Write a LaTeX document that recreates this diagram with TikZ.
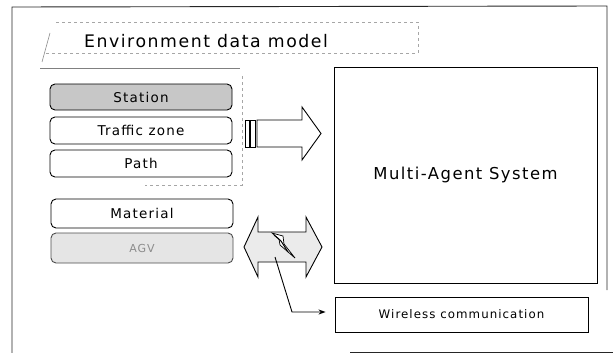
\documentclass[tikz,border=0pt]{standalone}
\usepackage{fontspec}
\setmainfont{DejaVu Sans}[LetterSpace=9]
\usetikzlibrary{arrows.meta}
\begin{document}
\begin{tikzpicture}[x=1pt,y=-1pt,
  frameline/.style={line width=0.9pt, black!85},
  faint/.style={draw=black!35, dashed, line width=0.6pt},
  item/.style={draw, rounded corners=5pt, minimum width=182pt, line width=0.9pt, inner sep=0pt, font=\fontsize{13.5}{15}\selectfont},
  bigarrow/.style={draw, line width=0.9pt, line join=miter},
  plainbox/.style={draw, line width=0.9pt, inner sep=0pt}]
\useasboundingbox (0,0) rectangle (613,353);
% outer frame
\draw[frameline] (12,353) -- (12,7) -- (607,6) -- (607,290);
\draw[frameline] (350,352) -- (613,352);
% title frame
\draw[faint] (56,22) -- (418,22) -- (418,53) -- (44,53);
\draw[draw=black!45, line width=0.6pt] (50,33) -- (42,62);
\draw[draw=black!50, line width=0.7pt] (40,68) -- (240,68);
\node[font=\fontsize{17.3}{20}\selectfont, inner sep=0pt] (title) at (206,41) {Environment data model};
% group box
\draw[faint] (242,76) -- (242,185) -- (145,185);
% items
\node[item, fill=black!22, minimum height=26pt] (station) at (141,97) {Station};
\node[item, minimum height=27pt] (traffic) at (141,130.5) {Traffic zone};
\node[item, minimum height=27pt] (path) at (141,163.5) {Path};
\node[item, minimum height=29pt] (material) at (142,213.5) {Material};
\node[item, draw=black!70, fill=black!10, text=black!45, minimum height=30pt, font=\fontsize{11}{13}\selectfont] (agv) at (142,248) {AGV};
% MAS and wireless boxes
\node[plainbox, minimum width=263pt, minimum height=216pt, font=\fontsize{16.4}{19}\selectfont] (mas) at (465.5,175) {Multi-Agent System};
\node[plainbox, minimum width=253pt, minimum height=35pt, font=\fontsize{11.8}{14}\selectfont] (wl) at (461.5,314.5) {Wireless communication};
% single big arrow with bars
\draw[bigarrow] (245,120) rectangle (249.5,147);
\draw[bigarrow] (250.5,120) rectangle (255.5,147);
\draw[bigarrow] (257,120) -- (302,120) -- (302,107) -- (321,133.5) -- (302,160) -- (302,147) -- (257,147) -- cycle;
% double arrow
\draw[bigarrow, fill=black!8] (244,247) -- (258,217) -- (258,232) -- (306,232) -- (306,217) -- (322,247) -- (306,277) -- (306,262) -- (258,262) -- (258,277) -- cycle;
% lightning bolt
\draw[line width=0.7pt, fill=white, line join=miter] (272,233) -- (283,236) -- (284,244) -- (295,258) -- (280,245) -- (279,239) -- cycle;
\draw[line width=1pt] (274,235) -- (281,241) -- (288,252);
% connector
\coordinate (c1) at (275,257);
\coordinate (c2) at (292,312);
\draw[line width=0.9pt, -{Stealth[length=7pt,width=5pt]}, shorten >=9pt] (c1) -- (c2) -- (c2 -| wl.west);
\end{tikzpicture}
\end{document}
